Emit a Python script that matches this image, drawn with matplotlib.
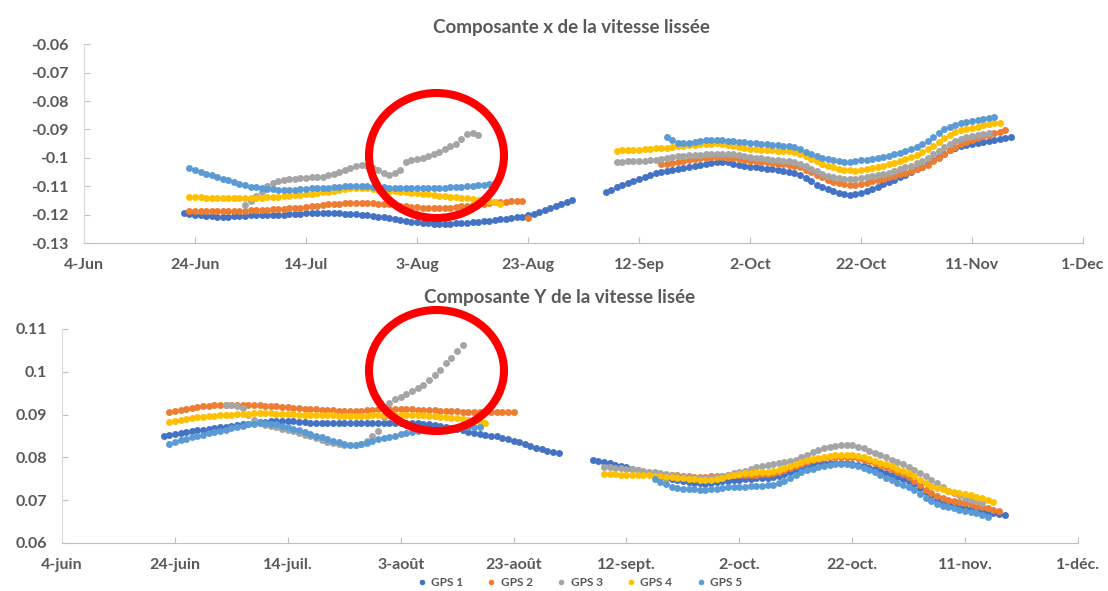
import matplotlib
matplotlib.use("Agg")
import matplotlib.pyplot as plt
import numpy as np
import pandas as pd
from matplotlib.patches import Ellipse
from matplotlib.lines import Line2D

plt.rcParams['font.family'] = ['Lato', 'DejaVu Sans']

names = ["GPS 1", "GPS 2", "GPS 3", "GPS 4", "GPS 5"]
colors = ["#4472C4", "#ED7D31", "#A5A5A5", "#FFC000", "#5B9BD5"]

# daily smoothed velocity, values stored in units of 1e-4
# --- x component ---
vx_gps1_summer = [-1194, -1197, -1200, -1202, -1204, -1206, -1207, -1207, -1207, -1206,
                  -1205, -1204, -1203, -1203, -1202, -1202, -1201, -1201, -1200, -1199,
                  -1198, -1197, -1196, -1195, -1195, -1195, -1195, -1195, -1196, -1197,
                  -1198, -1199, -1200, -1202, -1204, -1207, -1210, -1213, -1216, -1219,
                  -1222, -1225, -1227, -1229, -1231, -1232, -1233, -1233, -1232, -1231,
                  -1230, -1228, -1227, -1225, -1223, -1221, -1219, -1217, -1215, -1213,
                  -1210, -1207, -1203, -1197, -1190, -1183, -1176, -1169, -1162, -1155,
                  -1148]
vx_gps1_autumn = [-1119, -1112, -1104, -1097, -1090, -1082, -1075, -1067, -1059, -1053,
                  -1049, -1045, -1042, -1039, -1036, -1033, -1030, -1026, -1022, -1018,
                  -1014, -1013, -1016, -1020, -1024, -1028, -1031, -1034, -1037, -1039,
                  -1041, -1044, -1047, -1050, -1053, -1062, -1072, -1083, -1094, -1103,
                  -1111, -1118, -1124, -1128, -1131, -1129, -1124, -1117, -1109, -1101,
                  -1093, -1085, -1077, -1068, -1059, -1050, -1041, -1032, -1022, -1009,
                  -997, -985, -974, -964, -958, -954, -951, -948, -945, -941,
                  -937, -933, -929, -926]
vx_gps2_summer = [-1189, -1189, -1189, -1189, -1188, -1188, -1188, -1187, -1187, -1186,
                  -1186, -1185, -1184, -1183, -1182, -1181, -1180, -1179, -1178, -1177,
                  -1175, -1173, -1171, -1168, -1166, -1164, -1162, -1161, -1160, -1160,
                  -1160, -1160, -1160, -1160, -1161, -1162, -1164, -1166, -1168, -1170,
                  -1172, -1174, -1176, -1177, -1178, -1178, -1177, -1175, -1173, -1171,
                  -1169, -1167, -1165, -1162, -1160, -1157, -1155, -1154, -1153, -1152,
                  -1151, -1213]
vx_gps2_autumn = [-1022, -1020, -1017, -1014, -1011, -1008, -1005, -1002, -999, -997,
                  -996, -997, -999, -1002, -1005, -1008, -1010, -1012, -1014, -1016,
                  -1018, -1020, -1022, -1024, -1027, -1034, -1042, -1051, -1060, -1069,
                  -1077, -1084, -1089, -1093, -1095, -1094, -1091, -1087, -1083, -1079,
                  -1074, -1069, -1064, -1058, -1052, -1046, -1040, -1033, -1024, -1012,
                  -999, -986, -973, -961, -951, -943, -936, -930, -924, -918,
                  -913, -908, -903]
vx_gps3_summer = [-1166, -1152, -1136, -1120, -1100, -1088, -1082, -1078, -1076, -1074,
                  -1072, -1071, -1069, -1068, -1066, -1062, -1057, -1050, -1043, -1036,
                  -1030, -1026, -1028, -1035, -1044, -1053, -1059, -1055, -1043, -1015,
                  -1008, -1003, -999, -994, -987, -978, -968, -958, -950, -935,
                  -915, -912, -920]
vx_gps3_autumn = [-1013, -1013, -1012, -1012, -1011, -1010, -1009, -1007, -1004, -1001,
                  -998, -995, -993, -991, -990, -989, -988, -987, -986, -985,
                  -985, -986, -989, -993, -997, -1000, -1002, -1004, -1006, -1008,
                  -1010, -1012, -1015, -1022, -1030, -1039, -1048, -1056, -1063, -1068,
                  -1072, -1074, -1075, -1074, -1071, -1068, -1065, -1061, -1057, -1052,
                  -1047, -1041, -1034, -1027, -1019, -1010, -1000, -988, -975, -962,
                  -950, -940, -933, -928, -923, -919, -915, -912]
vx_gps4_summer = [-1137, -1138, -1139, -1140, -1140, -1141, -1141, -1142, -1142, -1142,
                  -1142, -1142, -1141, -1140, -1139, -1138, -1137, -1135, -1134, -1132,
                  -1131, -1129, -1127, -1124, -1122, -1119, -1116, -1113, -1110, -1108,
                  -1107, -1107, -1108, -1110, -1112, -1114, -1116, -1118, -1119, -1121,
                  -1123, -1125, -1127, -1129, -1131, -1133, -1135, -1137, -1139, -1141,
                  -1142, -1144, -1147, -1150, -1153, -1157, -1162]
vx_gps4_autumn = [-975, -974, -973, -972, -971, -970, -968, -967, -966, -964,
                  -962, -960, -958, -956, -954, -952, -951, -950, -949, -950,
                  -953, -957, -961, -965, -968, -970, -972, -973, -974, -975,
                  -976, -977, -979, -986, -994, -1003, -1012, -1020, -1027, -1033,
                  -1038, -1042, -1044, -1045, -1043, -1040, -1036, -1032, -1027, -1022,
                  -1017, -1011, -1005, -998, -990, -981, -970, -957, -944, -931,
                  -919, -910, -903, -898, -894, -890, -886, -882, -879, -876]
vx_gps5_summer = [-1036, -1043, -1050, -1056, -1062, -1067, -1073, -1079, -1085, -1091,
                  -1096, -1101, -1104, -1107, -1109, -1111, -1112, -1113, -1113, -1112,
                  -1111, -1110, -1108, -1107, -1106, -1105, -1103, -1102, -1100, -1099,
                  -1099, -1099, -1100, -1101, -1103, -1104, -1105, -1106, -1107, -1107,
                  -1107, -1107, -1107, -1106, -1106, -1105, -1105, -1104, -1103, -1102,
                  -1100, -1099, -1097, -1095, -1092, -1090]
vx_gps5_autumn = [-927, -938, -946, -948, -946, -943, -940, -938, -937, -937,
                  -938, -940, -942, -944, -945, -947, -948, -950, -952, -954,
                  -956, -958, -960, -963, -970, -978, -986, -993, -999, -1004,
                  -1008, -1011, -1013, -1013, -1012, -1009, -1006, -1003, -1000, -996,
                  -992, -987, -982, -976, -970, -962, -952, -940, -926, -912,
                  -900, -891, -884, -879, -875, -871, -868, -864, -860, -856]

# --- y component ---
vy_gps1_summer = [850, 853, 855, 857, 859, 861, 863, 865, 867, 869,
                  870, 872, 873, 875, 877, 879, 881, 882, 883, 884,
                  885, 885, 885, 884, 883, 882, 881, 881, 880, 880,
                  880, 880, 880, 880, 880, 880, 880, 880, 880, 880,
                  881, 881, 881, 881, 881, 880, 879, 878, 876, 874,
                  872, 869, 866, 863, 860, 857, 855, 853, 851, 849,
                  846, 843, 839, 835, 831, 827, 823, 819, 816, 813,
                  810]
vy_gps1_autumn = [795, 792, 789, 786, 783, 780, 777, 774, 770, 767,
                  763, 760, 756, 753, 750, 747, 745, 743, 741, 740,
                  739, 740, 742, 744, 746, 747, 748, 749, 750, 751,
                  752, 753, 755, 757, 761, 765, 770, 775, 779, 782,
                  784, 786, 787, 787, 787, 786, 784, 782, 779, 776,
                  772, 768, 764, 759, 754, 749, 744, 737, 729, 720,
                  711, 703, 697, 692, 688, 685, 682, 679, 677, 675,
                  672, 669, 667, 665]
vy_gps2_summer = [905, 908, 911, 914, 916, 918, 920, 921, 922, 923,
                  923, 923, 923, 923, 922, 922, 922, 921, 920, 919,
                  918, 917, 916, 915, 914, 913, 912, 911, 910, 910,
                  909, 909, 909, 909, 909, 910, 911, 912, 913, 913,
                  913, 913, 912, 912, 911, 911, 910, 910, 909, 909,
                  908, 908, 907, 907, 906, 906, 906, 906, 906, 906,
                  907, 907]
vy_gps2_autumn = [763, 762, 761, 760, 759, 758, 757, 756, 755, 755,
                  755, 756, 757, 757, 758, 758, 759, 759, 760, 760,
                  761, 762, 763, 766, 770, 775, 780, 785, 789, 793,
                  796, 799, 801, 802, 802, 802, 800, 798, 795, 791,
                  787, 782, 777, 772, 766, 761, 755, 746, 735, 724,
                  716, 710, 705, 701, 698, 696, 693, 690, 687, 684,
                  681, 678, 675]
vy_gps3_summer = [922, 922, 921, 915, 900, 888, 880, 876, 873, 870,
                  867, 864, 861, 857, 853, 849, 845, 841, 837, 834,
                  831, 829, 828, 829, 832, 838, 850, 862, 895, 928,
                  936, 941, 948, 955, 962, 970, 980, 992, 1005, 1020,
                  1033, 1048, 1063]
vy_gps3_autumn = [778, 777, 776, 775, 773, 772, 770, 769, 767, 765,
                  763, 761, 759, 757, 755, 754, 753, 752, 751, 752,
                  754, 757, 760, 763, 766, 769, 773, 777, 780, 783,
                  785, 787, 789, 791, 795, 800, 806, 812, 817, 821,
                  825, 827, 829, 829, 828, 825, 821, 816, 811, 806,
                  800, 795, 789, 784, 778, 771, 764, 756, 748, 740,
                  730, 722, 716, 711, 706, 701, 697, 693]
vy_gps4_summer = [882, 885, 888, 890, 892, 894, 895, 896, 897, 898,
                  899, 900, 901, 902, 902, 903, 903, 903, 903, 902,
                  902, 901, 901, 900, 900, 899, 899, 898, 898, 898,
                  897, 897, 897, 897, 897, 897, 898, 898, 898, 899,
                  899, 899, 899, 899, 898, 898, 897, 896, 895, 894,
                  892, 891, 889, 887, 885, 883, 881]
vy_gps4_autumn = [761, 761, 761, 760, 760, 760, 759, 759, 758, 757,
                  756, 755, 754, 752, 751, 750, 749, 748, 747, 748,
                  750, 753, 756, 759, 762, 763, 764, 765, 766, 767,
                  768, 771, 775, 780, 785, 790, 793, 796, 799, 801,
                  803, 805, 806, 806, 805, 803, 800, 796, 792, 788,
                  784, 779, 774, 769, 764, 756, 748, 740, 734, 729,
                  725, 722, 720, 717, 714, 711, 708, 704, 700, 696]
vy_gps5_summer = [831, 836, 840, 844, 847, 850, 853, 856, 859, 862,
                  865, 868, 871, 874, 877, 879, 880, 880, 879, 877,
                  874, 871, 867, 863, 859, 855, 851, 847, 843, 839,
                  835, 832, 830, 830, 831, 834, 838, 842, 845, 848,
                  851, 854, 857, 859, 861, 863, 864, 865, 866, 867,
                  868, 869, 870, 870, 871, 871]
vy_gps5_autumn = [750, 743, 737, 732, 729, 727, 726, 725, 724, 724,
                  725, 727, 729, 730, 731, 732, 732, 733, 733, 734,
                  735, 736, 740, 746, 752, 759, 765, 770, 774, 778,
                  781, 783, 784, 785, 784, 782, 779, 775, 770, 765,
                  759, 753, 747, 741, 736, 731, 723, 714, 705, 697,
                  691, 687, 684, 681, 678, 675, 672, 669, 665, 661]

# first day of each recorded stretch
summer_start = ["2019-06-22", "2019-06-23", "2019-07-03", "2019-06-23", "2019-06-23"]
autumn_start = ["2019-09-06", "2019-09-16", "2019-09-08", "2019-09-08", "2019-09-17"]

vx_series = [(vx_gps1_summer, vx_gps1_autumn), (vx_gps2_summer, vx_gps2_autumn),
             (vx_gps3_summer, vx_gps3_autumn), (vx_gps4_summer, vx_gps4_autumn),
             (vx_gps5_summer, vx_gps5_autumn)]
vy_series = [(vy_gps1_summer, vy_gps1_autumn), (vy_gps2_summer, vy_gps2_autumn),
             (vy_gps3_summer, vy_gps3_autumn), (vy_gps4_summer, vy_gps4_autumn),
             (vy_gps5_summer, vy_gps5_autumn)]

tick_dates = pd.date_range("2019-06-04", periods=10, freq="20D")
x_ticklabels_en = ["4-Jun", "24-Jun", "14-Jul", "3-Aug", "23-Aug",
                   "12-Sep", "2-Oct", "22-Oct", "11-Nov", "1-Dec"]
x_ticklabels_fr = ["4-juin", "24-juin", "14-juil.", "3-août", "23-août",
                   "12-sept.", "2-oct.", "22-oct.", "11-nov.", "1-déc."]
vx_yticks = [-0.13, -0.12, -0.11, -0.10, -0.09, -0.08, -0.07, -0.06]
vx_yticklabels = ["-0.13", "-0.12", "-0.11", "-0.1", "-0.09", "-0.08", "-0.07", "-0.06"]
vy_yticks = [0.06, 0.07, 0.08, 0.09, 0.10, 0.11]
vy_yticklabels = ["0.06", "0.07", "0.08", "0.09", "0.1", "0.11"]

text_color = "#595959"
W, H = 1108, 591

fig = plt.figure(figsize=(W / 100, H / 100), dpi=100)
ax1 = fig.add_axes([84 / W, 1 - 243 / H, 999 / W, 198.7 / H])
ax2 = fig.add_axes([62 / W, 1 - 543 / H, 1016 / W, 214 / H])


def draw_panel(ax, series, yticks, yticklabels, xticklabels):
    for i, (summer, autumn) in enumerate(series):
        for start, vals in ((summer_start[i], summer), (autumn_start[i], autumn)):
            days = pd.date_range(start, periods=len(vals), freq="D")
            ax.plot(days, np.array(vals) * 1e-4, linestyle="none", marker="o",
                    ms=5, mew=0, color=colors[i])
    ax.set_xlim(tick_dates[0], tick_dates[-1])
    ax.set_ylim(yticks[0], yticks[-1])
    ax.set_xticks(tick_dates)
    ax.set_xticklabels(xticklabels)
    ax.set_yticks(yticks)
    ax.set_yticklabels(yticklabels)
    for side in ("top", "right"):
        ax.spines[side].set_visible(False)
    ax.spines["left"].set_color("#D9D9D9")
    ax.spines["bottom"].set_color("#BFBFBF")
    ax.tick_params(axis="both", direction="in", length=4, color="#BFBFBF",
                   labelsize=11.5, labelcolor=text_color)
    ax.tick_params(axis="y", pad=11)
    ax.tick_params(axis="x", pad=11)
    for lab in ax.get_xticklabels() + ax.get_yticklabels():
        lab.set_fontweight("bold")
    ax.patch.set_alpha(0)


draw_panel(ax1, vx_series, vx_yticks, vx_yticklabels, x_ticklabels_en)
draw_panel(ax2, vy_series, vy_yticks, vy_yticklabels, x_ticklabels_fr)

fig.text(571 / W, 1 - 27 / H, "Composante x de la vitesse lissée", ha="center", va="center",
         fontsize=13.5, fontweight="bold", color=text_color)
fig.text(560 / W, 1 - 298 / H, "Composante Y de la vitesse lisée", ha="center", va="center",
         fontsize=13.5, fontweight="bold", color=text_color)

# red rings around the drifting GPS 3 stretch
for cy, hgt in ((155.5, 125), (370.5, 121)):
    fig.add_artist(Ellipse((436.5 / W, 1 - cy / H), 135 / W, hgt / H,
                           transform=fig.transFigure, fill=False,
                           edgecolor="#FF0000", lw=5.8, zorder=10))

handles = [Line2D([], [], linestyle="none", marker="o", ms=4, mew=0, color=c) for c in colors]
leg = fig.legend(handles, names, loc="center", bbox_to_anchor=(579 / W, 1 - 583 / H),
                 ncol=5, frameon=False, fontsize=8.5, handletextpad=0.3,
                 columnspacing=1.9, handlelength=1.0)
for t in leg.get_texts():
    t.set_color(text_color)
    t.set_fontweight("bold")

fig.savefig("out.png", dpi=100)
